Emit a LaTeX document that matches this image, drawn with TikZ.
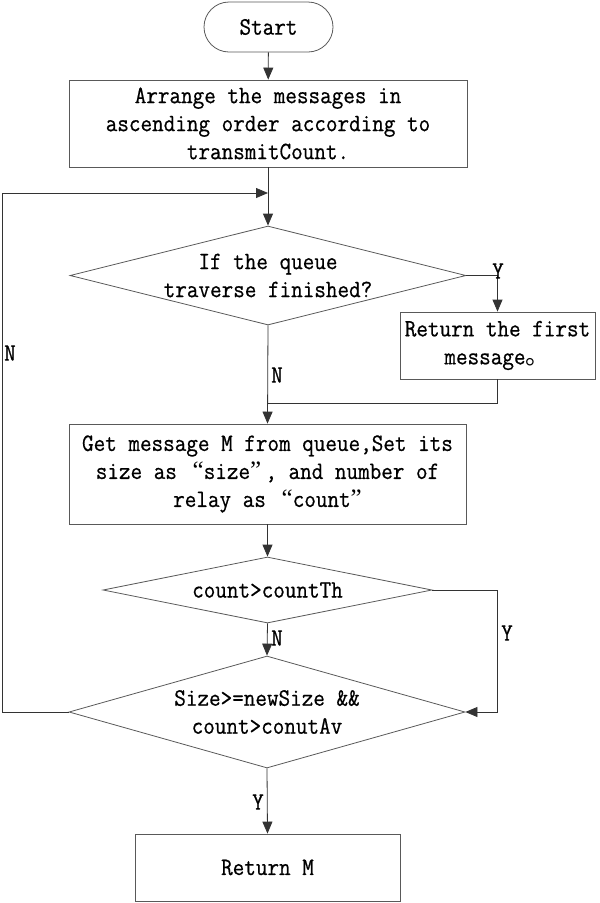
\documentclass[tikz,border=0pt]{standalone}
\usepackage{fontspec}
\setmainfont{Latin Modern Mono}[FakeStretch=0.9,FakeBold=0.6]
\newfontfamily\cjk{Noto Sans CJK SC}
\newfontfamily\qf{Liberation Serif}
\usetikzlibrary{shapes.geometric,arrows.meta}
\begin{document}
\begin{tikzpicture}[x=1pt,y=-1pt,
  every node/.style={font=\fontsize{25}{28}\selectfont, text=black},
  line/.style={draw=black!80, line width=0.8pt},
  arr/.style={line, -{Triangle[length=12pt,width=10pt]}},
  box/.style={draw=black!65, line width=0.8pt, rectangle, inner sep=0pt, align=center},
  dia/.style={draw=black!65, line width=0.8pt, diamond, inner sep=0pt},
  lbl/.style={inner sep=0pt, align=center}]
\useasboundingbox (0,0) rectangle (600,903);
% nodes
\node[box, rounded corners=25pt, minimum width=129pt, minimum height=50pt] (start) at (268.5,27) {Start};
\node[box, minimum width=398pt, minimum height=87pt] (b1) at (268,123.5) {Arrange the messages in\\ascending order according to\\transmitCount.};
\node[dia, minimum width=396pt, minimum height=99pt] (d1) at (268,275.5) {};
\node[lbl] (d1t) at (d1) {If the queue\\traverse finished?};
\node[box, minimum width=195pt, minimum height=67pt] (b2) at (497.5,345.5) {Return the first\\message{\cjk 。}};
\node[box, minimum width=397pt, minimum height=100pt] (b3) at (267.5,474) {Get message M from queue,Set its\\size as \,{\qf “}size{\qf ”}\,, and number of\\relay as \,{\qf “}count{\qf ”}};
\node[dia, minimum width=329pt, minimum height=66pt] (d2) at (267.5,590) {};
\node[lbl] (d2t) at (d2) {count>countTh};
\node[dia, minimum width=396pt, minimum height=112pt] (d3) at (267,712) {};
\node[lbl] (d3t) at (d3) {Size>=newSize \&\&\\count>conutAv};
\node[box, minimum width=265pt, minimum height=67pt] (b4) at (267.5,867.5) {Return M};
% coordinates
\coordinate (lp) at (2,193);
\coordinate (mrg) at (268,403);
\coordinate (yc) at (497.5,712);
% connectors
\draw[arr] (start) -- (b1);
\draw[arr] (b1) -- (d1.north);
\draw[arr] (d3.west) -| (lp) -- (lp -| d1.north);
\draw[arr] (d1.east) -| (b2.north);
\draw[line] (b2.south) |- (mrg);
\draw[arr] (d1.south) -- (b3.north);
\draw[arr] (b3.south) -- (d2.north);
\draw[arr] (d2.south) -- (d3.north);
\draw[arr] (d2.east) -| (yc) -- (d3.east);
\draw[arr] (d3.south) -- (b4.north);
% labels
\node[lbl] (ly1) at (498,271) {Y};
\node[lbl] (ln1) at (277,375) {N};
\node[lbl] (ln0) at (10,353) {N};
\node[lbl] (ln2) at (277,638) {N};
\node[lbl] (ly2) at (507,633) {Y};
\node[lbl] (ly3) at (258,802) {Y};
\end{tikzpicture}
\end{document}
